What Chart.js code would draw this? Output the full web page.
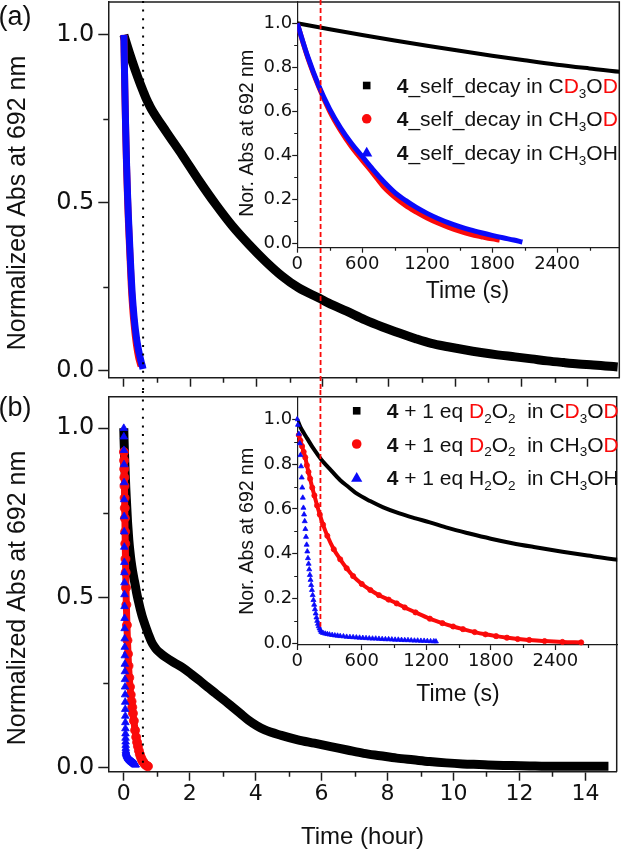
<!DOCTYPE html>
<html><head><meta charset="utf-8">
<script src="https://cdn.jsdelivr.net/npm/chart.js@4.4.1/dist/chart.umd.min.js"></script>
<style>
html,body{margin:0;padding:0;background:#fff;}
#wrap{position:relative;width:622px;height:852px;overflow:hidden;background:#fff;}
.c{position:absolute;}
canvas{display:block;}
</style></head><body>
<div id="wrap">
<div class="c" style="left:0;top:0;"><canvas id="mainA" width="622" height="390"></canvas></div>
<div class="c" style="left:0;top:390px;"><canvas id="mainB" width="622" height="462"></canvas></div>
<div class="c" style="left:228px;top:0;"><canvas id="insetA" width="394" height="390"></canvas></div>
<div class="c" style="left:228px;top:390px;"><canvas id="insetB" width="394" height="330"></canvas></div>
</div>
<script>
// ================= DATA (time in seconds, normalized absorbance) =================
// Panel (a): 4_self_decay
const selfCD3OD_t = [0,300,600,900,1200,1500,1800,2100,2400,2700,3000,4600,6400,8200,10000,11800,13600,15400,17200,19000,21200,22250,24200,26200,28100,30000,31700,33400,35200,37000,38800,40600,42500,44300,46000,47800,49400,51000,52300,53640];
const selfCD3OD_v = [1.0,0.973,0.947,0.922,0.898,0.875,0.853,0.832,0.812,0.795,0.779,0.712,0.64,0.565,0.495,0.431,0.376,0.326,0.282,0.247,0.217,0.202,0.178,0.152,0.131,0.112,0.096,0.082,0.072,0.063,0.055,0.048,0.042,0.036,0.030,0.025,0.021,0.018,0.015,0.012];
const selfCH3OD_t = [0,100,200,300,400,500,600,700,800,900,1000,1100,1200,1300,1400,1500,1600,1700,1800,1870];
const selfCH3OD_v = [1.0,0.84,0.71,0.60,0.513,0.44,0.378,0.318,0.256,0.21,0.172,0.142,0.115,0.092,0.072,0.055,0.041,0.030,0.020,0.015];
const selfCH3OH_t = [0,100,200,300,400,500,600,700,800,900,1000,1100,1200,1300,1400,1500,1600,1700,1800,1900,2000,2080];
const selfCH3OH_v = [1.0,0.845,0.715,0.61,0.525,0.455,0.395,0.335,0.28,0.232,0.195,0.163,0.136,0.113,0.093,0.076,0.061,0.048,0.036,0.025,0.015,0.006];
// Panel (b): 4 + 1 eq peroxide
const perCD3OD_t = [0,30,60,92,150,225,300,400,480,555,678,800,950,1100,1233,1400,1600,1800,2000,2200,2466,2700,3000,3300,3600,4100,4600,5400,6400,7400,8200,9100,10000,10900,11800,12700,13600,14500,15400,17200,19000,20800,22600,24400,26200,28000,29800,31600,33400,35200,37000,38800,40600,42400,44300,46100,47900,49700,51500,52920];
const perCD3OD_v = [1.0,0.965,0.94,0.915,0.87,0.82,0.78,0.728,0.697,0.668,0.635,0.607,0.58,0.558,0.54,0.515,0.49,0.467,0.447,0.43,0.409,0.392,0.372,0.358,0.347,0.335,0.325,0.311,0.295,0.275,0.258,0.238,0.219,0.2,0.18,0.16,0.14,0.124,0.111,0.095,0.082,0.072,0.062,0.052,0.042,0.035,0.028,0.023,0.018,0.014,0.011,0.009,0.007,0.006,0.005,0.004,0.004,0.004,0.004,0.004];
const perCH3OD_t = [15,30,45,60,75,90,105,120,140,160,185,210,240,280,340,400,460,520,600,680,760,850,925,1000,1100,1233,1350,1450,1541,1650,1750,1849,1950,2050,2157,2300,2466,2640];
const perCH3OD_v = [0.93,0.905,0.88,0.855,0.83,0.795,0.765,0.735,0.695,0.66,0.615,0.575,0.53,0.48,0.42,0.375,0.335,0.30,0.265,0.238,0.215,0.195,0.178,0.16,0.138,0.11,0.09,0.075,0.063,0.05,0.04,0.032,0.025,0.019,0.015,0.01,0.006,0.004];
const perCH3OH_t = [0,6,15,24,30,36,42,47,52,58,64,70,76,82,88,94,100,106,112,118,124,130,137,144,151,158,165,172,179,186,193,200,208,216,225,240,260,280,300,325,350,375,400,430,460,490,520,550,580,610,640,670,700,730,760,790,820,850,880,910,940,970,1000,1030,1060,1090,1120,1150,1180,1210,1240,1270,1290];
const perCH3OH_v = [1.0,0.975,0.935,0.893,0.84,0.79,0.74,0.695,0.65,0.605,0.575,0.545,0.51,0.475,0.44,0.41,0.38,0.355,0.33,0.305,0.283,0.26,0.238,0.215,0.193,0.172,0.152,0.133,0.115,0.1,0.087,0.076,0.066,0.057,0.05,0.046,0.043,0.041,0.039,0.037,0.035,0.034,0.032,0.031,0.029,0.028,0.027,0.026,0.025,0.024,0.023,0.022,0.021,0.021,0.02,0.019,0.018,0.018,0.017,0.016,0.016,0.015,0.014,0.014,0.013,0.012,0.012,0.011,0.011,0.01,0.009,0.009,0.008];
// Ticks
const mainXTicks = [0,2,4,6,8,10,12,14];
const mainXMinor = [1,3,5,7,9,11,13];
const mainYTicks = [0,0.5,1.0];
const mainYMinor = [0.25,0.75];
const insetXTicks = [0,600,1200,1800,2400];
const insetXMinor = [300,900,1500,2100,2700];
const insetYTicks = [0,0.2,0.4,0.6,0.8,1.0];
const insetYMinor = [0.1,0.3,0.5,0.7,0.9];
// Texts
const mainYTitle = 'Normalized Abs at 692 nm';
const mainXTitle = 'Time (hour)';
const insetYTitle = 'Nor. Abs at 692 nm';
const insetXTitle = 'Time (s)';
const panelLabels = ['(a)','(b)'];
const legendA = ['<b>4</b>_self_decay in C<r>D</r><sub>3</sub>O<r>D</r>','<b>4</b>_self_decay in CH<sub>3</sub>O<r>D</r>','<b>4</b>_self_decay in CH<sub>3</sub>OH'];
const legendB = ['<b>4</b> + 1 eq <r>D</r><sub>2</sub>O<sub>2</sub>  in C<r>D</r><sub>3</sub>O<r>D</r>','<b>4</b> + 1 eq <r>D</r><sub>2</sub>O<sub>2</sub>  in CH<sub>3</sub>O<r>D</r>','<b>4</b> + 1 eq H<sub>2</sub>O<sub>2</sub>  in CH<sub>3</sub>OH'];
// Reference markers
const dottedRefHour = 0.58;   // end of CH3OH self-decay
const dashedRefSec = 216;     // knee of H2O2 reaction
const dashedEndValue = 0.074;

// ================= STYLE / DRAWING =================
const AX = '#1c1c1c';
const RED = '#fa0a0a', BLUE = '#0a0afa', BLACK = '#000000';
const TXT = '#111111';
const SANS = '"Liberation Sans", Arial, sans-serif';
const NUM = '"DejaVu Sans", sans-serif';

function pts(t, v, div){ return t.map((ti,i)=>({x: ti/div, y: v[i]})); }

function xScale(o){
  return {
    type:'linear', min:o.min, max:o.max, offset:false,
    afterBuildTicks: s => { s.ticks = o.ticks.map(v=>({value:v})); },
    afterFit: s => { s.height = o.h; s.paddingLeft=0; s.paddingRight=0; s.paddingTop=0; s.paddingBottom=0; },
    ticks:{ display:o.labels, autoSkip:false, maxRotation:0, minRotation:0, padding:o.pad, color:TXT,
      font:{family:NUM, size:o.fs}, callback: v => String(v) },
    grid:{ display:true, drawOnChartArea:false, drawTicks:true, tickLength:o.tl, tickWidth:o.lw, tickColor:AX },
    border:{ display:true, color:AX, width:o.lw }
  };
}
function yScale(o){
  return {
    type:'linear', min:o.min, max:o.max, offset:false,
    afterBuildTicks: s => { s.ticks = o.ticks.map(v=>({value:v})); },
    afterFit: s => { s.width = o.w; s.paddingLeft=0; s.paddingRight=0; s.paddingTop=0; s.paddingBottom=0; },
    ticks:{ display:true, autoSkip:false, padding:o.pad, color:TXT,
      font:{family:NUM, size:o.fs}, callback: v => Number(v).toFixed(1) },
    grid:{ display:true, drawOnChartArea:false, drawTicks:true, tickLength:o.tl, tickWidth:o.lw, tickColor:AX },
    border:{ display:true, color:AX, width:o.lw }
  };
}

function parseRich(s){
  const out=[]; let b=false,r=false,sub=false;
  s.split(/(<\/?(?:b|r|sub)>)/).forEach(p=>{
    if(!p) return;
    const m=p.match(/^<(\/?)(b|r|sub)>$/);
    if(m){ const on=!m[1]; if(m[2]==='b') b=on; else if(m[2]==='r') r=on; else sub=on; return; }
    out.push({text:p,b,r,sub});
  });
  return out;
}
function drawMarker(ctx, kind, x, y){
  ctx.save();
  if(kind==='square'){ ctx.fillStyle=BLACK; ctx.fillRect(x-3.8,y-3.8,7.6,7.6); }
  else if(kind==='circle'){ ctx.fillStyle=RED; ctx.beginPath(); ctx.arc(x,y,4.8,0,Math.PI*2); ctx.fill(); }
  else { ctx.fillStyle=BLUE; ctx.beginPath(); ctx.moveTo(x,y-5.5); ctx.lineTo(x+5.6,y+4.3); ctx.lineTo(x-5.6,y+4.3); ctx.closePath(); ctx.fill(); }
  ctx.restore();
}
function drawLegend(ctx, labels, mx, tx, rows){
  const kinds=['square','circle','triangle'];
  labels.forEach((lab,i)=>{
    const y=rows[i];
    drawMarker(ctx, kinds[i], mx, y);
    let x=tx;
    parseRich(lab).forEach(seg=>{
      ctx.font=(seg.b?'bold ':'')+(seg.sub?'13.5px ':'21px ')+SANS;
      ctx.fillStyle=seg.r?RED:TXT;
      ctx.textAlign='left'; ctx.textBaseline='alphabetic';
      ctx.fillText(seg.text, x, y+7.6+(seg.sub?4.8:0));
      x+=ctx.measureText(seg.text).width;
    });
  });
}

function decor(cfg){
  return {
    id:'decor_'+cfg.name,
    afterDraw(chart){
      const ctx=chart.ctx, ca=chart.chartArea, xs=chart.scales.x, ys=chart.scales.y;
      ctx.save();
      ctx.strokeStyle=AX; ctx.lineWidth=cfg.lw;
      if(cfg.frame){
        ctx.beginPath(); ctx.moveTo(ca.left, ca.top); ctx.lineTo(ca.right, ca.top); ctx.lineTo(ca.right, ca.bottom); ctx.stroke();
      }
      ctx.beginPath();
      cfg.minorX.forEach(v=>{ const p=Math.round(xs.getPixelForValue(v))+0.5; ctx.moveTo(p, ca.bottom); ctx.lineTo(p, ca.bottom+cfg.minorLen); });
      cfg.minorY.forEach(v=>{ const p=Math.round(ys.getPixelForValue(v))+0.5; ctx.moveTo(ca.left-cfg.minorLen, p); ctx.lineTo(ca.left, p); });
      ctx.stroke();
      ctx.fillStyle=TXT;
      if(cfg.yTitle){
        const yc=(ys.getPixelForValue(0)+ys.getPixelForValue(1))/2;
        ctx.save(); ctx.translate(cfg.yTitle.x, yc); ctx.rotate(-Math.PI/2);
        ctx.font=cfg.yTitle.font; ctx.textAlign='center'; ctx.textBaseline='middle';
        ctx.fillText(cfg.yTitle.text,0,0); ctx.restore();
      }
      if(cfg.xTitle){
        ctx.font=cfg.xTitle.font; ctx.textAlign='center'; ctx.textBaseline='middle';
        const xc = cfg.xTitle.x!=null ? cfg.xTitle.x : (ca.left+ca.right)/2;
        ctx.fillText(cfg.xTitle.text, xc, cfg.xTitle.y);
      }
      if(cfg.panel){
        ctx.font='27px '+SANS; ctx.textAlign='left'; ctx.textBaseline='alphabetic';
        ctx.fillText(cfg.panel.text, cfg.panel.x, cfg.panel.y);
      }
      if(cfg.legend){ drawLegend(ctx, cfg.legend.labels, cfg.legend.mx, cfg.legend.tx, cfg.legend.rows); }
      if(cfg.dotted){
        const px=xs.getPixelForValue(cfg.dotted.value);
        const y1 = cfg.dotted.to==='zero'? ys.getPixelForValue(0) : chart.height;
        ctx.save(); ctx.strokeStyle='#000'; ctx.lineWidth=2; ctx.setLineDash([2,6.6]);
        ctx.beginPath(); ctx.moveTo(px,1); ctx.lineTo(px,y1); ctx.stroke(); ctx.restore();
      }
      if(cfg.dashed){
        const px=xs.getPixelForValue(cfg.dashed.value);
        const y1 = cfg.dashed.endValue!=null ? ys.getPixelForValue(cfg.dashed.endValue) : chart.height;
        ctx.save(); ctx.strokeStyle=RED; ctx.lineWidth=1.8; ctx.setLineDash([5,3]);
        ctx.beginPath(); ctx.moveTo(px,0); ctx.lineTo(px,y1); ctx.stroke(); ctx.restore();
      }
      ctx.restore();
    }
  };
}

const common = { responsive:false, animation:false, events:[], devicePixelRatio:1,
  plugins:{legend:{display:false}, tooltip:{enabled:false}} };

function lineDs(data, color, w, order){
  return { data, showLine:true, borderColor:color, backgroundColor:color, borderWidth:w, pointRadius:0,
    borderJoinStyle:'round', borderCapStyle:'butt', cubicInterpolationMode:'monotone', order };
}
function ptDs(data, color, style, r, lineW, order){
  return { data, showLine: lineW>0, borderColor:color, backgroundColor:color, borderWidth:lineW,
    pointStyle:style, pointRadius:r, pointBorderWidth:0.8, pointBorderColor:color, pointBackgroundColor:color,
    borderJoinStyle:'round', cubicInterpolationMode:'monotone', order };
}

// ---------- Main (a) ----------
new Chart(document.getElementById('mainA'), {
  type:'scatter',
  data:{ datasets:[
    lineDs(pts(selfCH3OH_t, selfCH3OH_v, 3600), BLUE, 7, 0),
    lineDs(pts(selfCH3OD_t, selfCH3OD_v, 3600), RED, 7, 1),
    lineDs(pts(selfCD3OD_t, selfCD3OD_v, 3600), BLACK, 9, 2)
  ]},
  options:Object.assign({}, common, {
    layout:{padding:{top:2,right:2.7,left:0,bottom:0}},
    scales:{
      x: xScale({min:-0.47,max:14.95,ticks:mainXTicks,labels:false,h:12.3,tl:9,lw:1.5,pad:0,fs:22}),
      y: yScale({min:-0.02,max:1.098,ticks:mainYTicks,w:108.3,tl:10,lw:1.5,pad:4,fs:24})
    }
  }),
  plugins:[decor({name:'mA', frame:true, lw:1.5, minorX:mainXMinor, minorY:mainYMinor, minorLen:5,
    yTitle:{text:mainYTitle, x:18.5, font:'25px '+SANS},
    panel:{text:panelLabels[0], x:-1.5, y:24.5},
    dotted:{value:dottedRefHour}})]
});

// ---------- Main (b) ----------
new Chart(document.getElementById('mainB'), {
  type:'scatter',
  data:{ datasets:[
    ptDs(pts(perCH3OH_t, perCH3OH_v, 3600), BLUE, 'triangle', 4.4, 0, 0),
    ptDs(pts(perCH3OD_t, perCH3OD_v, 3600), RED, 'circle', 4.5, 7, 1),
    lineDs(pts(perCD3OD_t, perCD3OD_v, 3600), BLACK, 9, 2)
  ]},
  options:Object.assign({}, common, {
    layout:{padding:{top:6.7,right:2.7,left:0,bottom:0}},
    scales:{
      x: xScale({min:-0.47,max:14.95,ticks:mainXTicks,labels:true,h:80.3,tl:9,lw:1.5,pad:0,fs:22}),
      y: yScale({min:-0.012,max:1.093,ticks:mainYTicks,w:108.3,tl:10,lw:1.5,pad:4,fs:24})
    }
  }),
  plugins:[decor({name:'mB', frame:true, lw:1.5, minorX:mainXMinor, minorY:mainYMinor, minorLen:5,
    yTitle:{text:mainYTitle, x:18.5, font:'25px '+SANS},
    xTitle:{text:mainXTitle, y:447, font:'24px '+SANS},
    panel:{text:panelLabels[1], x:-1.5, y:26},
    dotted:{value:dottedRefHour, to:'zero'}})]
});

// ---------- Inset (a) ----------
new Chart(document.getElementById('insetA'), {
  type:'scatter',
  data:{ datasets:[
    Object.assign(lineDs(pts(selfCH3OH_t, selfCH3OH_v, 1), BLUE, 5, 0),{clip:0}),
    Object.assign(lineDs(pts(selfCH3OD_t, selfCH3OD_v, 1), RED, 5, 1),{clip:0}),
    Object.assign(lineDs(pts(selfCD3OD_t, selfCD3OD_v, 1), BLACK, 4, 2),{clip:0})
  ]},
  options:Object.assign({}, common, {
    layout:{padding:{top:2,right:2.7,left:0,bottom:0}},
    scales:{
      x: xScale({min:0,max:2975,ticks:insetXTicks,labels:true,h:142.3,tl:5,lw:1.2,pad:1,fs:18}),
      y: yScale({min:-0.02,max:1.097,ticks:insetYTicks,w:69.2,tl:5,lw:1.2,pad:0,fs:18})
    }
  }),
  plugins:[decor({name:'iA', frame:false, lw:1.2, minorX:insetXMinor, minorY:insetYMinor, minorLen:3,
    yTitle:{text:insetYTitle, x:19.5, font:'19.5px '+SANS},
    xTitle:{text:insetXTitle, x:239.5, y:292, font:'23px '+SANS},
    legend:{labels:legendA, mx:138.7, tx:168.7, rows:[85.5,118.8,152.2]},
    dashed:{value:dashedRefSec}})]
});

// ---------- Inset (b) ----------
new Chart(document.getElementById('insetB'), {
  type:'scatter',
  data:{ datasets:[
    Object.assign(ptDs(pts(perCH3OH_t, perCH3OH_v, 1), BLUE, 'triangle', 2.9, 0, 0),{clip:2}),
    Object.assign(ptDs(pts(perCH3OD_t, perCH3OD_v, 1), RED, 'circle', 2.6, 4, 1),{clip:2}),
    Object.assign(lineDs(pts(perCD3OD_t, perCD3OD_v, 1), BLACK, 4, 2),{clip:0})
  ]},
  options:Object.assign({}, common, {
    layout:{padding:{top:6.7,right:2.7,left:0,bottom:0}},
    scales:{
      x: xScale({min:0,max:2975,ticks:insetXTicks,labels:true,h:75,tl:5,lw:1.2,pad:1,fs:18}),
      y: yScale({min:-0.0076,max:1.101,ticks:insetYTicks,w:69.2,tl:5,lw:1.2,pad:0,fs:18})
    }
  }),
  plugins:[decor({name:'iB', frame:false, lw:1.2, minorX:insetXMinor, minorY:insetYMinor, minorLen:3,
    yTitle:{text:insetYTitle, x:19.5, font:'19.5px '+SANS},
    xTitle:{text:insetXTitle, x:230, y:305, font:'23px '+SANS},
    legend:{labels:legendB, mx:128.7, tx:158.7, rows:[20.8,54,87.5]},
    dashed:{value:dashedRefSec, endValue:dashedEndValue}})]
});
</script>
</body></html>
